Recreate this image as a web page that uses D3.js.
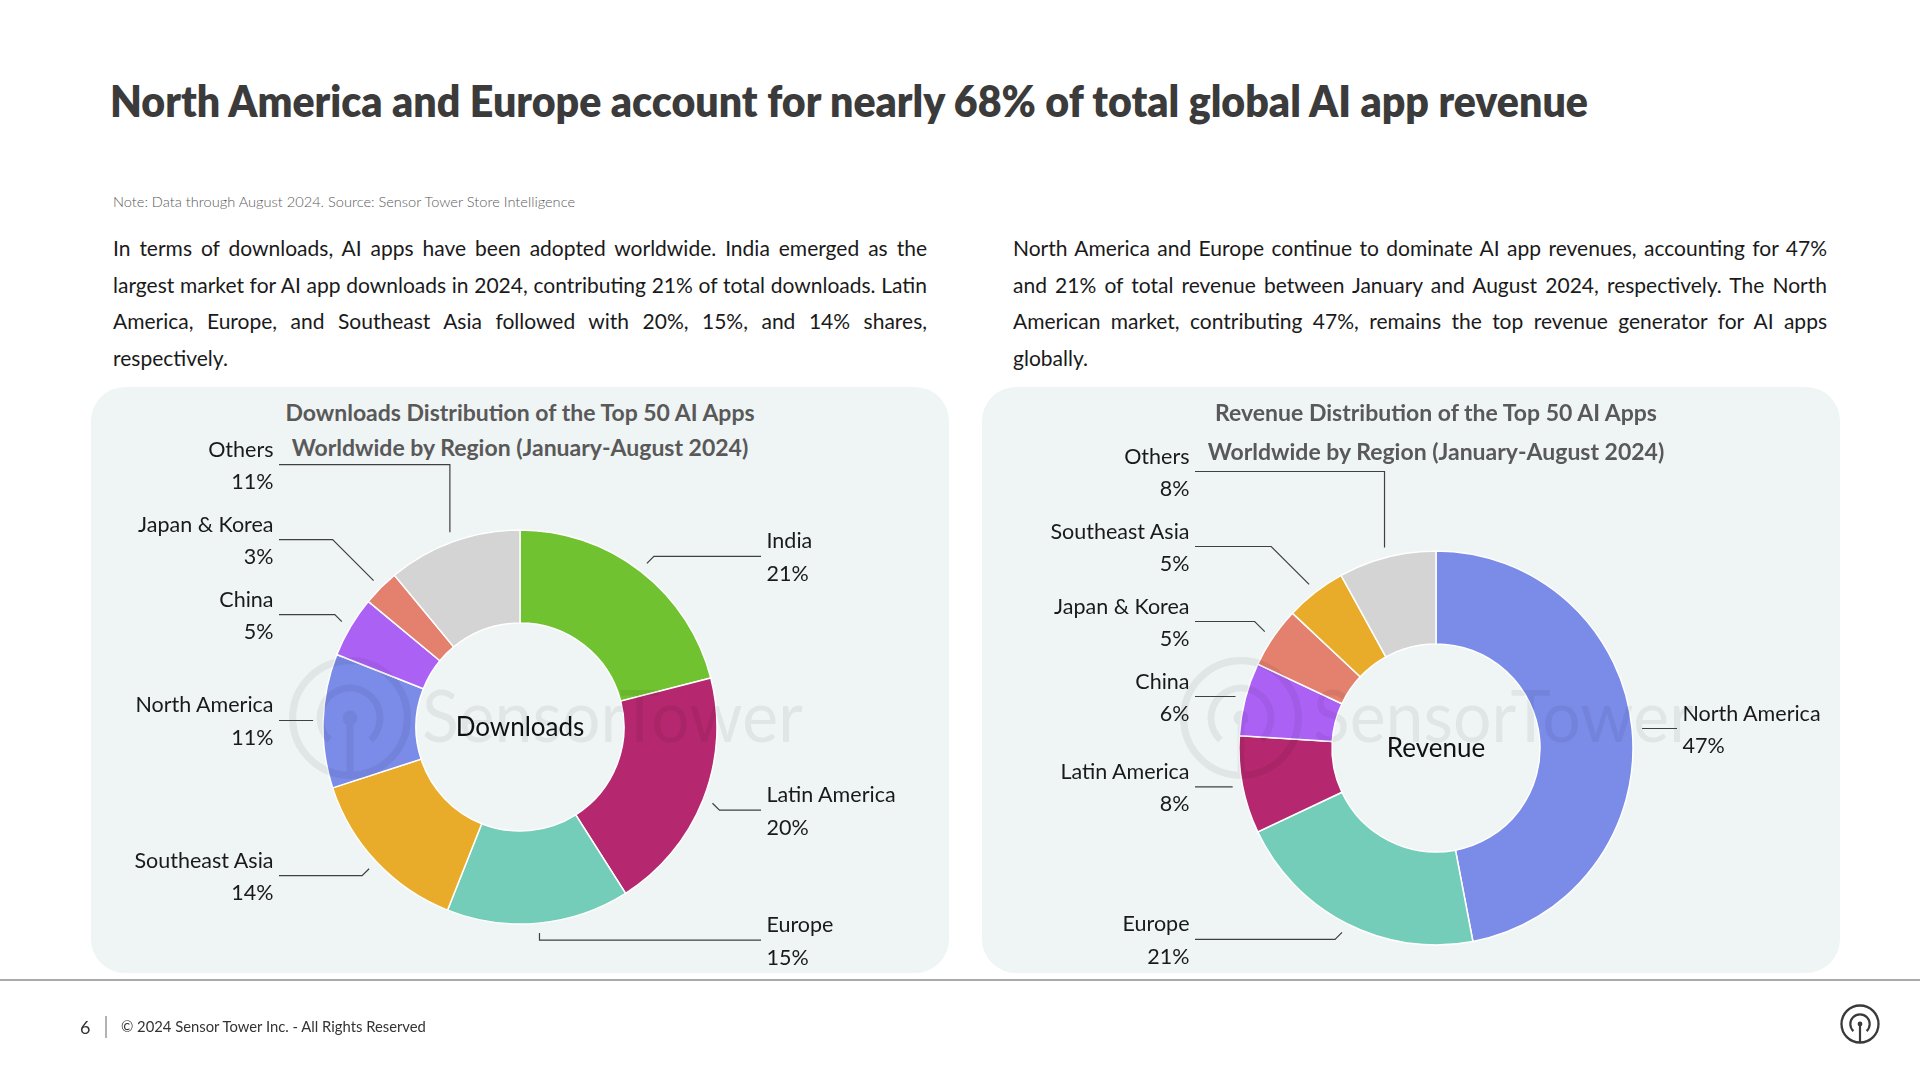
<!DOCTYPE html>
<html>
<head>
<meta charset="utf-8">
<script src="https://cdn.jsdelivr.net/npm/d3@7"></script>
<style>
  body { margin: 0; background: #fff; }
  svg { display: block; font-family: Lato, "Noto Sans", sans-serif; }
</style>
</head>
<body>
<script>
// data (shares in % of total)

var downloadRegions = ["India", "Latin America", "Europe", "Southeast Asia", "North America", "China", "Japan & Korea", "Others"];
var downloadShares = [21, 20, 15, 14, 11, 5, 3, 11];

var revenueRegions = ["North America", "Europe", "Latin America", "China", "Japan & Korea", "Southeast Asia", "Others"];
var revenueShares = [47, 21, 8, 6, 5, 5, 8];

var regionNames = ["India", "Latin America", "Europe", "Southeast Asia", "North America", "China", "Japan & Korea", "Others"];
var regionColors = ["#70c230", "#b5286f", "#74cdb8", "#e9ac2a", "#7b8be8", "#ac61f5", "#e4806e", "#d4d4d4"];

var headline = "North America and Europe account for nearly 68% of total global AI app revenue";
var note = "Note: Data through August 2024. Source: Sensor Tower Store Intelligence";

var leftText = [
  "In terms of downloads, AI apps have been adopted worldwide. India emerged as the",
  "largest market for AI app downloads in 2024, contributing 21% of total downloads. Latin",
  "America, Europe, and Southeast Asia followed with 20%, 15%, and 14% shares,",
  "respectively."
];
var rightText = [
  "North America and Europe continue to dominate AI app revenues, accounting for 47%",
  "and 21% of total revenue between January and August 2024, respectively. The North",
  "American market, contributing 47%, remains the top revenue generator for AI apps",
  "globally."
];

var downloadsTitle = ["Downloads Distribution of the Top 50 AI Apps", "Worldwide by Region (January-August 2024)"];
var revenueTitle = ["Revenue Distribution of the Top 50 AI Apps", "Worldwide by Region (January-August 2024)"];

var footerText = "\u00a9 2024 Sensor Tower Inc. - All Rights Reserved";

// layout

var W = 1920, H = 1080;

var charts = [
  { regions: downloadRegions, shares: downloadShares, title: downloadsTitle, center: "Downloads",
    panelX: 91, cx: 520, cy: 727, titleGap: 35 },
  { regions: revenueRegions, shares: revenueShares, title: revenueTitle, center: "Revenue",
    panelX: 982, cx: 1436, cy: 748, titleGap: 39 }
];

var panelY = 387, panelW = 858, panelH = 586;
var outerR = 197, innerR = 104, leadR = 207;

var color = d3.scaleOrdinal().domain(regionNames).range(regionColors);

var svg = d3.select("body").append("svg")
  .attr("width", W)
  .attr("height", H);

// headline + note

svg.append("text")
  .attr("x", 110)
  .attr("y", 117)
  .attr("font-size", 44)
  .attr("font-weight", 800)
  .attr("fill", "#3b3b3b")
  .attr("textLength", 1478)
  .attr("lengthAdjust", "spacingAndGlyphs")
  .text(headline);

svg.append("text")
  .attr("x", 113)
  .attr("y", 207)
  .attr("font-size", 14)
  .attr("font-weight", 300)
  .attr("fill", "#5a5a5a")
  .attr("textLength", 462)
  .attr("lengthAdjust", "spacingAndGlyphs")
  .text(note);

// justified paragraphs (last line left as is)

function paragraph(lines, x, width) {
  var t = svg.append("g").selectAll("text")
    .data(lines)
    .enter().append("text")
    .attr("x", x)
    .attr("y", function(d, i) { return 256 + i * 36.7; })
    .attr("font-size", 21)
    .attr("fill", "#1a1a1a")
    .text(function(d) { return d; });
  return { sel: t, width: width };
}

var paras = [paragraph(leftText, 113, 814), paragraph(rightText, 1013, 814)];

// shrink the font until the longest line fits
var fit = 21;
paras.forEach(function(p) {
  p.sel.each(function() {
    var w = this.getComputedTextLength();
    if (w > p.width) fit = Math.min(fit, 21 * p.width / w - 0.1);
  });
});
paras.forEach(function(p) {
  p.sel.attr("font-size", fit);
  p.sel.each(function(d, i) {
    if (i === p.sel.size() - 1) return;
    var gaps = d.split(" ").length - 1;
    var w = this.getComputedTextLength();
    d3.select(this).style("word-spacing", ((p.width - w) / gaps) + "px");
  });
});

// sensor tower mark, used for footer and watermark
function logo(g, x, y, s, col) {
  var m = g.append("g").attr("transform", "translate(" + x + "," + y + ")");
  m.append("circle").attr("r", 18.5 * s).attr("fill", "none").attr("stroke", col).attr("stroke-width", 2.3 * s);
  m.append("path")
    .attr("d", d3.arc().innerRadius(8.6 * s).outerRadius(10.8 * s)
      .startAngle(-Math.PI + 0.75).endAngle(Math.PI - 0.75)())
    .attr("fill", col);
  m.append("line").attr("x1", 0).attr("y1", 0).attr("x2", 0).attr("y2", 18 * s)
    .attr("stroke", col).attr("stroke-width", 2.2 * s);
  m.append("circle").attr("r", 2.4 * s).attr("fill", col);
}

// donuts

var pie = d3.pie().sort(null).value(function(d) { return d.value; });
var arc = d3.arc().innerRadius(innerR).outerRadius(outerR);

charts.forEach(function(c) {
  var data = c.regions.map(function(r, i) { return { region: r, value: c.shares[i] }; });
  var g = svg.append("g");

  g.append("rect")
    .attr("x", c.panelX).attr("y", panelY)
    .attr("width", panelW).attr("height", panelH)
    .attr("rx", 34)
    .attr("fill", "#eff4f4");

  // title
  g.selectAll(".ctitle")
    .data(c.title)
    .enter().append("text")
    .attr("x", c.cx)
    .attr("y", function(d, i) { return panelY + 34 + i * c.titleGap; })
    .attr("text-anchor", "middle")
    .attr("font-size", 23)
    .attr("font-weight", 700)
    .attr("fill", "#595959")
    .text(function(d) { return d; });

  var arcs = pie(data);

  g.append("g")
    .attr("transform", "translate(" + c.cx + "," + c.cy + ")")
    .selectAll("path")
    .data(arcs)
    .enter().append("path")
    .attr("d", arc)
    .attr("fill", function(d) { return color(d.data.region); })
    .attr("stroke", "#fff")
    .attr("stroke-width", 1.5);

  // faint watermark on top
  var wm = g.append("g").attr("opacity", 0.06);
  logo(wm, c.panelX + 259, panelY + 331, 3.1, "#000");
  wm.append("text")
    .attr("x", c.panelX + 331)
    .attr("y", panelY + 355)
    .attr("font-size", 72)
    .attr("fill", "#000")
    .attr("textLength", 381)
    .attr("lengthAdjust", "spacingAndGlyphs")
    .text("SensorTower");

  g.append("text")
    .attr("x", c.cx)
    .attr("y", c.cy)
    .attr("dy", "0.35em")
    .attr("text-anchor", "middle")
    .attr("font-size", 26)
    .attr("fill", "#111")
    .text(c.center);

  // label anchors
  var labels = arcs.map(function(d) {
    var a = (d.startAngle + d.endAngle) / 2;
    var px = c.cx + leadR * Math.sin(a), py = c.cy - leadR * Math.cos(a);
    var cos = Math.cos(a);
    var off = Math.abs(cos) > 0.3 ? (cos > 0 ? -7 : 7) : 0;
    return { d: d, a: a, px: px, py: py, y: py + off, right: Math.sin(a) >= 0 };
  });

  // push labels apart on each side
  [true, false].forEach(function(side) {
    var s = labels.filter(function(l) { return l.right === side; })
      .sort(function(a, b) { return a.y - b.y; });
    for (var i = s.length - 2; i >= 0; i--) {
      if (s[i].y > s[i + 1].y - 75) s[i].y = s[i + 1].y - 75;
    }
  });

  var line = d3.line();

  labels.forEach(function(l) {
    var dir = l.right ? 1 : -1;
    var ex = Math.abs(Math.sin(l.a)) < 0.4 ? l.px : l.px + dir * Math.abs(l.y - l.py);
    var endX = c.cx + dir * 241;
    g.append("path")
      .attr("d", line([[endX, l.y], [ex, l.y], [l.px, l.py]]))
      .attr("fill", "none")
      .attr("stroke", "#404040")
      .attr("stroke-width", 1.2);

    var tx = c.cx + dir * 246.5;
    var t = g.append("text")
      .attr("text-anchor", l.right ? "start" : "end")
      .attr("font-size", 21.5)
      .attr("fill", "#1a1a1a");
    t.append("tspan").attr("x", tx).attr("y", l.y - 8).text(l.d.data.region);
    t.append("tspan").attr("x", tx).attr("y", l.y + 24.5).text(l.d.data.value + "%");
  });
});

// footer

svg.append("line")
  .attr("x1", 0).attr("x2", W)
  .attr("y1", 980).attr("y2", 980)
  .attr("stroke", "#8c8c8c")
  .attr("stroke-width", 1.5);

svg.append("text")
  .attr("x", 80).attr("y", 1034)
  .attr("font-size", 18)
  .attr("fill", "#333")
  .text("6");

svg.append("line")
  .attr("x1", 106).attr("x2", 106)
  .attr("y1", 1016).attr("y2", 1038)
  .attr("stroke", "#666")
  .attr("stroke-width", 1);

svg.append("text")
  .attr("x", 121).attr("y", 1032)
  .attr("font-size", 14.8)
  .attr("fill", "#333")
  .text(footerText);

logo(svg, 1860, 1024, 1, "#3a3a3a");
</script>
</body>
</html>
